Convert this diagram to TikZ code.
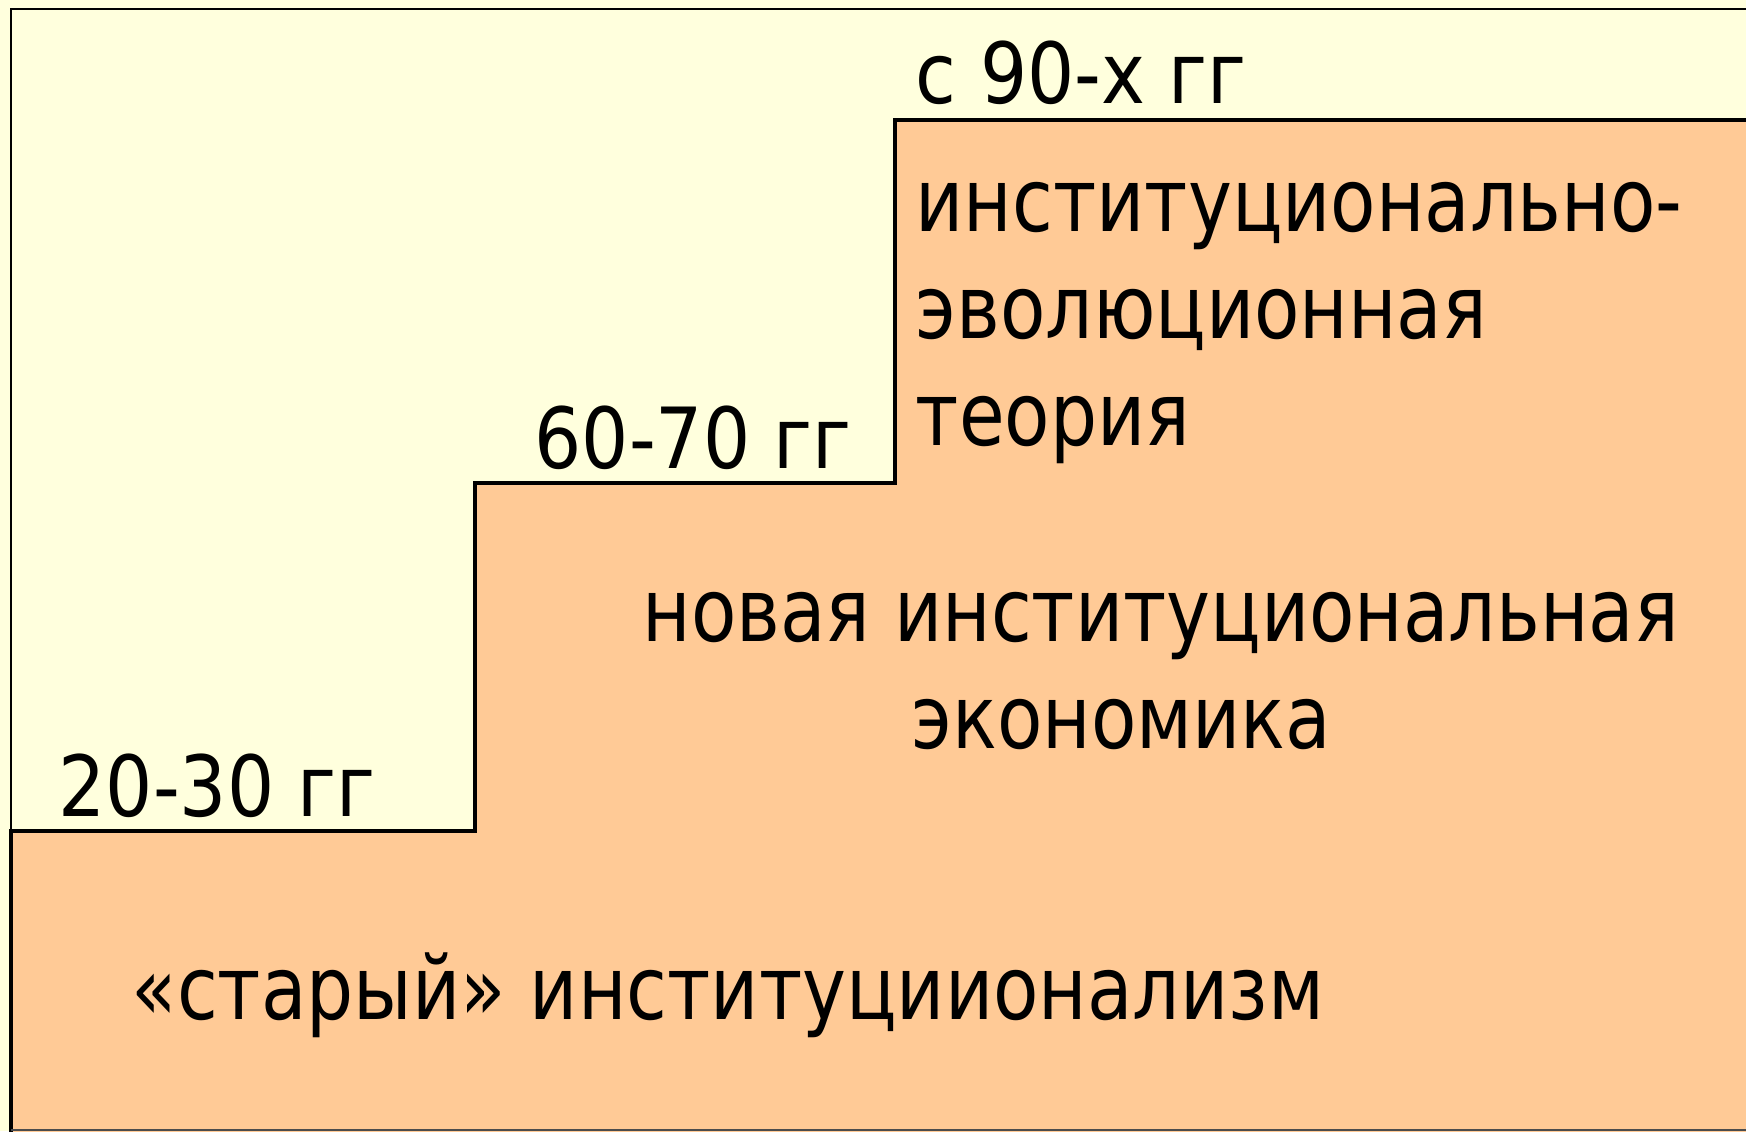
\documentclass[tikz,border=0pt]{standalone}
\usepackage{fontspec}
\setmainfont{DejaVu Sans}[FakeStretch=0.88]
\newfontfamily\schoolfont{DejaVu Sans}[FakeStretch=0.845]
\usetikzlibrary{positioning}
\definecolor{paleyellow}{HTML}{FFFFDD}
\definecolor{stairfill}{HTML}{FFCA96}
\tikzset{
    period/.style={
        anchor=base west,
        inner sep=0pt,
        font=\fontsize{24}{30}\selectfont
    },
    school/.style={
        anchor=base west,
        inner sep=0pt,
        align=left,
        font=\schoolfont\fontsize{25}{30.4}\selectfont
    },
    stair_line/.style={
        draw=black,
        line width=1pt
    },
}

\begin{document}
\begin{tikzpicture}[x=0.1mm, y=-0.1mm]
    % page
    \clip (0,0) rectangle (1746,1131);
    \fill[paleyellow] (0,0) rectangle (1746,1131);

    % stair corners
    \coordinate (s0) at (11,1140);
    \coordinate (s1) at (11,831);
    \coordinate (s2) at (475,831);
    \coordinate (s3) at (475,483);
    \coordinate (s4) at (895,483);
    \coordinate (s5) at (895,120);
    \coordinate (s6) at (1760,120);
    \coordinate (s7) at (1760,1140);

    % stairs
    \fill[stairfill] (s0) -- (s1) -- (s2) -- (s3) -- (s4) -- (s5) -- (s6) -- (s7) -- cycle;
    \draw[stair_line] (s0) -- (s1) -- (s2) -- (s3) -- (s4) -- (s5) -- (s6);
    \draw[line width=0.8pt] (11,1130) -- (11,9) -- (1760,9);
    \draw[line width=0.8pt, black!70] (11,1130) -- (1760,1130);

    % periods
    \node[period] (p20) at (58,816) {20-30 гг};
    \node[period] (p60) at (534,468) {60-70 гг};
    \node[period] (p90) at (915,104) {с 90-х гг};

    % schools (base = last line)
    \node[school] (old) at (131,1019) {«старый» институциионализм};
    \node[school] (nie) at (642,748) {новая институциональная\\\hspace*{76.5pt}экономика};
    \node[school] (evo) at (915,445) {институционально-\\эволюционная\\теория};
\end{tikzpicture}
\end{document}
